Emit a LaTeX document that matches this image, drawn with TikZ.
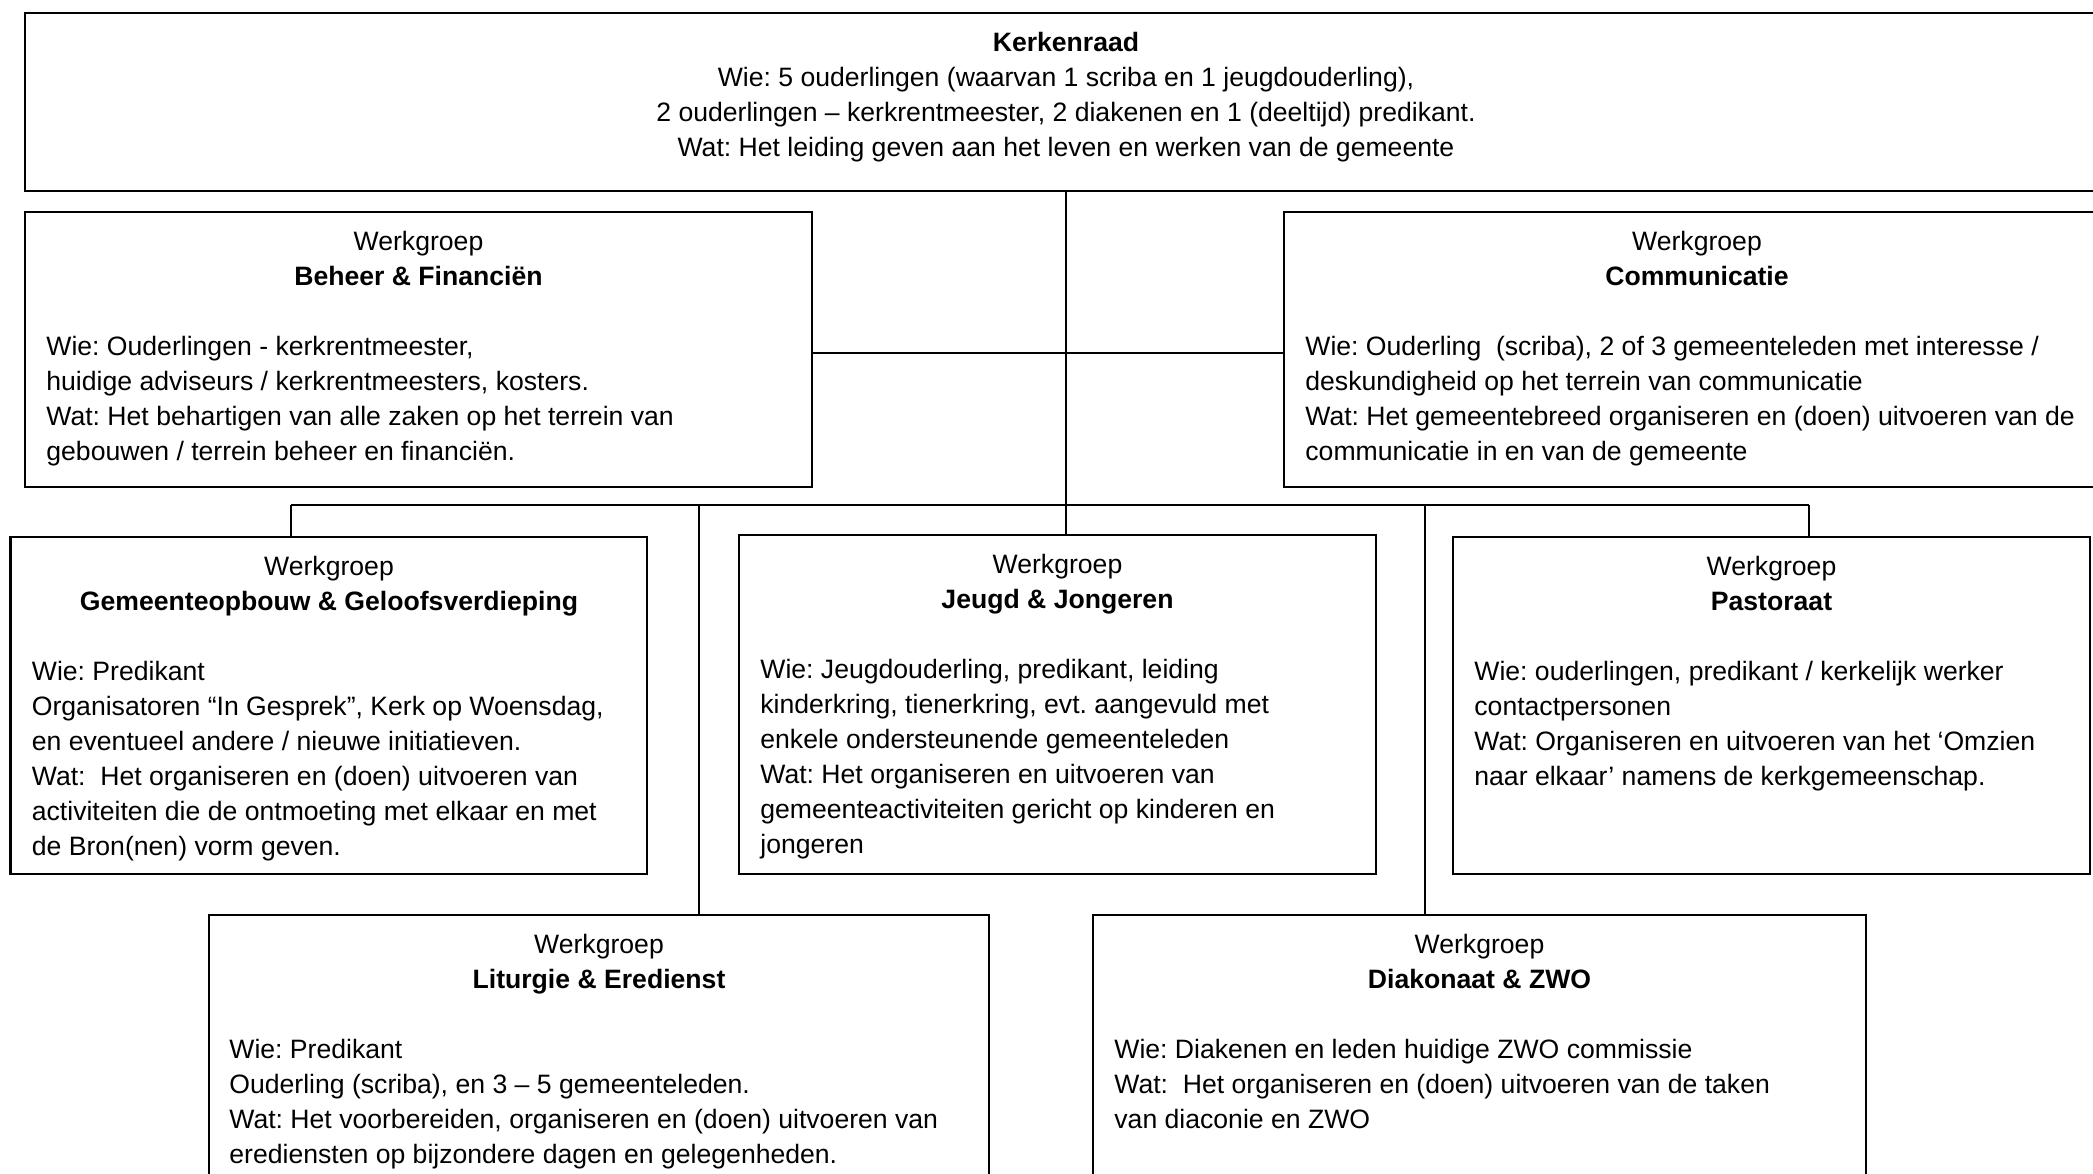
\documentclass[tikz,border=0pt]{standalone}
\usepackage{fontspec}
\setmainfont{Liberation Sans}
\usetikzlibrary{fit}
\frenchspacing
\newcommand{\boxfont}{\fontsize{13.3pt}{17.5pt}\selectfont\frenchspacing}
\newcommand{\firststrut}{\rule{0pt}{10pt}}
\begin{document}
\begin{tikzpicture}[x=0.5pt,y=-0.5pt,
  box/.style={draw, line width=1.1pt, inner sep=0pt},
  conn/.style={line width=0.75pt},
  ttl/.style={anchor=north, inner sep=0pt, align=center, font=\boxfont},
  body/.style={anchor=north west, inner sep=0pt, align=left, font=\boxfont}]
\useasboundingbox (0,0) rectangle (2093,1173);
\clip (0,0) rectangle (2093,1173);
\fill[white] (0,0) rectangle (2093,1173);

% Boxes
\node[box, fit={(25,13) (2107,191)}] (kr) {};
\node[box, fit={(25,212) (812,487)}] (bf) {};
\node[box, fit={(1284,212) (2110,487)}] (cm) {};
\node[box, fit={(10.5,537) (647,874)}] (go) {};
\node[box, fit={(739,535) (1376,874)}] (jg) {};
\node[box, fit={(1453,537) (2090,874)}] (ps) {};
\node[box, fit={(209,915) (989,1240)}] (lt) {};
\node[box, fit={(1093,915) (1866,1240)}] (dk) {};

% Texts
\begin{scope}[yshift=-1.5pt]
\node[ttl] (krt) at (1066,28) {\firststrut\textbf{Kerkenraad}\\
Wie: 5 ouderlingen (waarvan 1 scriba en 1 jeugdouderling),\\
2 ouderlingen – kerkrentmeester, 2 diakenen en 1 (deeltijd) predikant.\\
Wat: Het leiding geven aan het leven en werken van de gemeente};

\node[ttl] (bft) at (418.5,227) {\firststrut Werkgroep\\ \textbf{Beheer \& Financiën}};
\node[body] (bfb) at (46,332) {\firststrut Wie: Ouderlingen - kerkrentmeester,\\
huidige adviseurs / kerkrentmeesters, kosters.\\
Wat: Het behartigen van alle zaken op het terrein van\\
gebouwen / terrein beheer en financiën.};

\node[ttl] (cmt) at (1697,227) {\firststrut Werkgroep\\ \textbf{Communicatie}};
\node[body] (cmb) at (1305,332) {\firststrut Wie: Ouderling\ \ (scriba), 2 of 3 gemeenteleden met interesse /\\
deskundigheid op het terrein van communicatie\\
Wat: Het gemeentebreed organiseren en (doen) uitvoeren van de\\
communicatie in en van de gemeente};

\node[ttl] (got) at (329,552) {\firststrut Werkgroep\\ \textbf{Gemeenteopbouw \& Geloofsverdieping}};
\node[body] (gob) at (31.5,657) {\firststrut Wie: Predikant\\
Organisatoren “In Gesprek”, Kerk op Woensdag,\\
en eventueel andere / nieuwe initiatieven.\\
Wat:\ \ Het organiseren en (doen) uitvoeren van\\
activiteiten die de ontmoeting met elkaar en met\\
de Bron(nen) vorm geven.};

\node[ttl] (jgt) at (1057.5,550) {\firststrut Werkgroep\\ \textbf{Jeugd \& Jongeren}};
\node[body] (jgb) at (760,655) {\firststrut Wie: Jeugdouderling, predikant, leiding\\
kinderkring, tienerkring, evt. aangevuld met\\
enkele ondersteunende gemeenteleden\\
Wat: Het organiseren en uitvoeren van\\
gemeenteactiviteiten gericht op kinderen en\\
jongeren};

\node[ttl] (pst) at (1771.5,552) {\firststrut Werkgroep\\ \textbf{Pastoraat}};
\node[body] (psb) at (1474,657) {\firststrut Wie: ouderlingen, predikant / kerkelijk werker\\
contactpersonen\\
Wat: Organiseren en uitvoeren van het ‘Omzien\\
naar elkaar’ namens de kerkgemeenschap.};

\node[ttl] (ltt) at (599,930) {\firststrut Werkgroep\\ \textbf{Liturgie \& Eredienst}};
\node[body] (ltb) at (229,1035) {\firststrut Wie: Predikant\\
Ouderling (scriba), en 3 – 5 gemeenteleden.\\
Wat: Het voorbereiden, organiseren en (doen) uitvoeren van\\
erediensten op bijzondere dagen en gelegenheden.};

\node[ttl] (dkt) at (1479.5,930) {\firststrut Werkgroep\\ \textbf{Diakonaat \& ZWO}};
\node[body] (dkb) at (1114,1035) {\firststrut Wie: Diakenen en leden huidige ZWO commissie\\
Wat:\ \ Het organiseren en (doen) uitvoeren van de taken\\
van diaconie en ZWO};
\end{scope}

% Connectors
\coordinate (hl) at (0,353);
\coordinate (busL) at (291,505);
\coordinate (busR) at (1809,505);
\coordinate (busLt) at (699,505);
\coordinate (busDk) at (1425,505);

\draw[conn] (kr.south) -- (kr.south |- jg.north);
\draw[conn] (bf.east |- hl) -- (cm.west |- hl);
\draw[conn] (busL) -- (busR);
\draw[conn] (busL) -- (busL |- go.north);
\draw[conn] (busR) -- (busR |- ps.north);
\draw[conn] (busLt) -- (busLt |- lt.north);
\draw[conn] (busDk) -- (busDk |- dk.north);
\end{tikzpicture}
\end{document}
